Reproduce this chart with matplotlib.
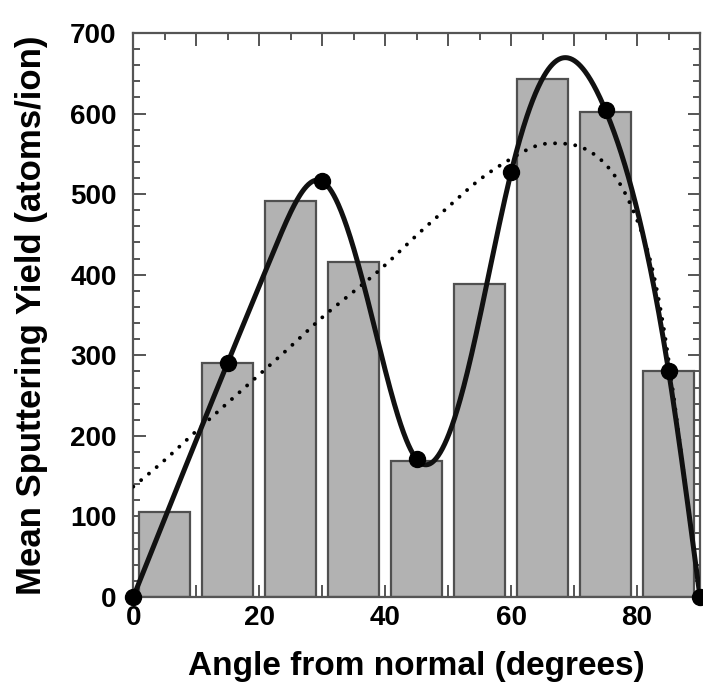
import numpy as np
import matplotlib
matplotlib.use("Agg")
import matplotlib.pyplot as plt
from matplotlib.ticker import MultipleLocator

plt.rcParams['font.family'] = ['Liberation Sans', 'DejaVu Sans']

# ---- data ----
bar_angles = [5, 15, 25, 35, 45, 55, 65, 75, 85]
bar_yields = [105, 291, 492, 416, 169, 389, 643, 602, 281]

# measured points (large black dots)
point_angles = [0, 15, 30, 45, 60, 75, 85, 90]
point_yields = [0, 291, 516, 171, 527, 604, 281, 0]

# solid curve (dots plus intermediate readings)
curve_angles = [0, 15, 22.5, 30, 37.5, 45, 52.5, 60, 67.5, 75, 85, 90]
curve_yields = [0, 291, 433, 516, 360, 171, 262, 527, 667, 604, 281, 0]

# dotted fit curve
fit_angles = [0, 5, 10, 15, 20, 25, 30, 35, 40, 45, 50, 55, 60, 62.5, 65,
              67.5, 70, 72.5, 75, 77.5, 80, 82.5, 85, 87.5, 90]
fit_yields = [137, 170, 206, 241, 276, 311, 347, 379, 412, 449, 484, 518, 544,
              555, 562, 563, 561, 553, 537, 510, 468, 405, 295, 148, 0]

x_ticks_labeled = [0, 20, 40, 60, 80]
y_ticks_labeled = [0, 100, 200, 300, 400, 500, 600, 700]


def natural_spline(x, y, xs):
    x = np.asarray(x, float)
    y = np.asarray(y, float)
    n = len(x)
    h = np.diff(x)
    A = np.zeros((n, n))
    b = np.zeros(n)
    A[0, 0] = 1
    A[-1, -1] = 1
    for i in range(1, n - 1):
        A[i, i - 1] = h[i - 1]
        A[i, i] = 2 * (h[i - 1] + h[i])
        A[i, i + 1] = h[i]
        b[i] = 6 * ((y[i + 1] - y[i]) / h[i] - (y[i] - y[i - 1]) / h[i - 1])
    M = np.linalg.solve(A, b)
    xs = np.asarray(xs, float)
    idx = np.clip(np.searchsorted(x, xs) - 1, 0, n - 2)
    x0, x1 = x[idx], x[idx + 1]
    hh = x1 - x0
    t0 = x1 - xs
    t1 = xs - x0
    return (M[idx] * t0 ** 3 / (6 * hh) + M[idx + 1] * t1 ** 3 / (6 * hh)
            + (y[idx] / hh - M[idx] * hh / 6) * t0
            + (y[idx + 1] / hh - M[idx + 1] * hh / 6) * t1)


fig = plt.figure(figsize=(7.03, 6.82), dpi=100)
ax = fig.add_axes([133.3 / 703, 85 / 682, (700 - 133.3) / 703, (597 - 33) / 682])

spine_c = '#555555'
ax.bar(bar_angles, bar_yields, width=8.1, color='#b2b2b2', edgecolor='#505050',
       linewidth=1.6, zorder=2)

xs = np.linspace(0, 90, 800)
ax.plot(xs, natural_spline(fit_angles, fit_yields, xs), color='black', lw=2.8,
        linestyle=(0, (0.01, 2.6)), dash_capstyle='round', zorder=3)
ax.plot(xs, natural_spline(curve_angles, curve_yields, xs), color='#111111',
        lw=3.6, zorder=4, solid_capstyle='round')
ax.plot(point_angles, point_yields, 'o', color='black', ms=11.5, zorder=5,
        clip_on=False)

ax.set_xlim(0, 90)
ax.set_ylim(0, 700)

ax.xaxis.set_major_locator(MultipleLocator(10))
ax.xaxis.set_minor_locator(MultipleLocator(5))
ax.yaxis.set_major_locator(MultipleLocator(100))
ax.yaxis.set_minor_locator(MultipleLocator(20))
ax.set_xticklabels([str(int(v)) if v in x_ticks_labeled else ''
                    for v in ax.get_xticks()])
ax.set_yticklabels([str(int(v)) if v in y_ticks_labeled else ''
                    for v in ax.get_yticks()])

ax.tick_params(which='both', direction='in', top=True, right=True,
               color=spine_c, width=1.4)
ax.tick_params(which='major', length=9, labelsize=20)
ax.tick_params(axis='y', which='major', pad=12)
ax.tick_params(axis='x', which='major', pad=6)
ax.tick_params(which='minor', length=5)
for lab in ax.get_xticklabels() + ax.get_yticklabels():
    lab.set_fontweight('bold')

for s in ax.spines.values():
    s.set_color(spine_c)
    s.set_linewidth(1.6)

ax.set_xlabel('Angle from normal (degrees)', fontsize=24, fontweight='bold',
              labelpad=14)
ax.set_ylabel('Mean Sputtering Yield (atoms/ion)', fontsize=25,
              fontweight='bold', labelpad=16)

fig.savefig('out.png', dpi=100)
